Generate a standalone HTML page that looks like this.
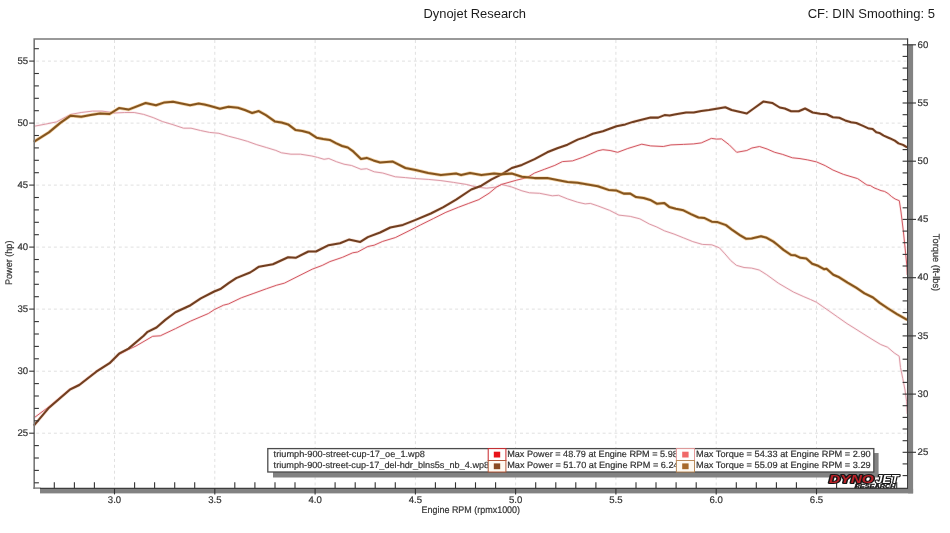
<!DOCTYPE html>
<html lang="en"><head><meta charset="utf-8"><title>Dynojet Research</title>
<style>html,body{margin:0;padding:0;background:#fff;overflow:hidden}body{width:950px;height:533px}</style>
</head><body>
<svg width="950" height="533" viewBox="0 0 950 533" style="display:block">
<rect width="950" height="533" fill="#fff"/>
<g stroke="#e0e0e0" stroke-width="1" stroke-dasharray="3 2.9" fill="none">
<line x1="36.2" x2="906.6" y1="433.2" y2="433.2"/>
<line x1="36.2" x2="906.6" y1="371.2" y2="371.2"/>
<line x1="36.2" x2="906.6" y1="309.1" y2="309.1"/>
<line x1="36.2" x2="906.6" y1="247.1" y2="247.1"/>
<line x1="36.2" x2="906.6" y1="185.1" y2="185.1"/>
<line x1="36.2" x2="906.6" y1="123.1" y2="123.1"/>
<line x1="36.2" x2="906.6" y1="61.1" y2="61.1"/>
<line y1="40.0" y2="487.3" x1="114.5" x2="114.5"/>
<line y1="40.0" y2="487.3" x1="214.8" x2="214.8"/>
<line y1="40.0" y2="487.3" x1="315.1" x2="315.1"/>
<line y1="40.0" y2="487.3" x1="415.4" x2="415.4"/>
<line y1="40.0" y2="487.3" x1="515.6" x2="515.6"/>
<line y1="40.0" y2="487.3" x1="615.9" x2="615.9"/>
<line y1="40.0" y2="487.3" x1="716.2" x2="716.2"/>
<line y1="40.0" y2="487.3" x1="816.5" x2="816.5"/>
</g>
<rect x="40" y="488.8" width="873.1" height="4.6" fill="#828282"/>
<rect x="908.1" y="44.6" width="5" height="448.8" fill="#828282"/>
<g fill="none" stroke-linejoin="round" stroke-linecap="butt">
<path d="M33.8 126.3 L45.2 124.2 L56.5 121.9 L70.7 114.4 L81.2 112.5 L92.5 111.1 L102.0 111.1 L109.6 112.1 L114.3 113.0 L124.7 112.5 L134.2 112.5 L143.7 114.4 L153.2 117.6 L162.6 121.6 L172.1 124.4 L183.5 128.2 L191.0 128.2 L200.5 130.5 L209.5 132.4 L218.9 133.3 L228.4 136.2 L237.9 138.6 L247.4 141.3 L256.8 144.7 L266.3 147.5 L275.8 150.4 L281.5 152.8 L290.9 154.2 L300.4 154.2 L311.8 156.0 L317.5 157.4 L324.1 159.3 L328.8 158.5 L336.4 161.7 L344.0 164.2 L351.6 165.5 L361.0 169.3 L366.7 168.7 L374.3 171.8 L382.7 173.0 L395.3 176.8 L405.4 177.6 L415.6 178.6 L428.2 179.4 L440.9 180.6 L453.5 182.4 L466.2 184.4 L476.3 187.0 L486.5 188.2 L496.6 187.0 L501.6 184.4 L511.8 187.0 L521.9 190.8 L529.5 192.8 L539.6 193.3 L552.3 195.8 L558.6 195.3 L567.5 198.9 L577.6 202.2 L585.2 203.9 L590.3 203.4 L597.8 205.9 L609.5 210.3 L618.9 215.1 L630.3 216.4 L639.8 218.8 L649.3 224.0 L656.8 227.0 L664.4 230.8 L673.9 234.0 L683.4 237.8 L692.8 241.6 L702.3 244.4 L711.8 244.8 L719.4 247.8 L725.0 253.9 L730.7 260.5 L736.4 265.3 L744.0 267.5 L751.6 268.1 L759.2 270.0 L766.7 274.7 L778.4 283.2 L786.9 288.2 L793.6 292.1 L803.8 296.7 L810.5 299.5 L816.4 302.2 L822.3 306.3 L829.1 311.0 L837.5 316.9 L847.0 323.6 L856.0 329.2 L865.0 334.9 L874.0 340.5 L880.7 344.5 L887.5 347.2 L894.2 352.9 L899.2 356.2 L900.5 367.5 L902.8 378.7 L905.0 390.0 L906.6 401.2 L907.3 414.0" stroke="#f6c8cc" stroke-opacity="0.3" stroke-width="2.4"/>
<path d="M33.8 126.3 L45.2 124.2 L56.5 121.9 L70.7 114.4 L81.2 112.5 L92.5 111.1 L102.0 111.1 L109.6 112.1 L114.3 113.0 L124.7 112.5 L134.2 112.5 L143.7 114.4 L153.2 117.6 L162.6 121.6 L172.1 124.4 L183.5 128.2 L191.0 128.2 L200.5 130.5 L209.5 132.4 L218.9 133.3 L228.4 136.2 L237.9 138.6 L247.4 141.3 L256.8 144.7 L266.3 147.5 L275.8 150.4 L281.5 152.8 L290.9 154.2 L300.4 154.2 L311.8 156.0 L317.5 157.4 L324.1 159.3 L328.8 158.5 L336.4 161.7 L344.0 164.2 L351.6 165.5 L361.0 169.3 L366.7 168.7 L374.3 171.8 L382.7 173.0 L395.3 176.8 L405.4 177.6 L415.6 178.6 L428.2 179.4 L440.9 180.6 L453.5 182.4 L466.2 184.4 L476.3 187.0 L486.5 188.2 L496.6 187.0 L501.6 184.4 L511.8 187.0 L521.9 190.8 L529.5 192.8 L539.6 193.3 L552.3 195.8 L558.6 195.3 L567.5 198.9 L577.6 202.2 L585.2 203.9 L590.3 203.4 L597.8 205.9 L609.5 210.3 L618.9 215.1 L630.3 216.4 L639.8 218.8 L649.3 224.0 L656.8 227.0 L664.4 230.8 L673.9 234.0 L683.4 237.8 L692.8 241.6 L702.3 244.4 L711.8 244.8 L719.4 247.8 L725.0 253.9 L730.7 260.5 L736.4 265.3 L744.0 267.5 L751.6 268.1 L759.2 270.0 L766.7 274.7 L778.4 283.2 L786.9 288.2 L793.6 292.1 L803.8 296.7 L810.5 299.5 L816.4 302.2 L822.3 306.3 L829.1 311.0 L837.5 316.9 L847.0 323.6 L856.0 329.2 L865.0 334.9 L874.0 340.5 L880.7 344.5 L887.5 347.2 L894.2 352.9 L899.2 356.2 L900.5 367.5 L902.8 378.7 L905.0 390.0 L906.6 401.2 L907.3 414.0" stroke="#dc9aa6" stroke-width="1"/>
<path d="M33.8 418.0 L49.0 406.7 L69.8 389.1 L79.3 384.5 L96.3 371.3 L109.6 363.0 L119.0 354.5 L128.5 349.5 L136.0 346.0 L152.7 336.3 L160.3 335.8 L175.4 328.7 L190.6 321.1 L208.4 313.5 L214.2 309.7 L223.5 305.2 L228.6 303.9 L241.3 297.8 L253.9 293.3 L266.6 288.7 L276.7 285.2 L284.3 283.2 L297.0 276.8 L312.2 269.2 L322.3 265.4 L329.9 261.6 L342.5 257.3 L352.7 252.8 L357.7 252.0 L367.8 246.5 L374.2 245.2 L382.7 241.4 L395.3 237.6 L408.0 231.3 L420.6 224.9 L433.3 218.6 L445.9 212.3 L458.6 207.2 L468.7 203.4 L478.9 199.6 L489.0 193.3 L496.6 187.0 L501.6 184.4 L516.8 180.1 L527.0 177.6 L534.6 173.0 L544.7 169.2 L554.8 165.4 L562.4 161.6 L572.5 160.9 L582.7 157.3 L590.3 154.1 L597.8 150.8 L602.9 149.7 L610.1 150.5 L617.7 152.3 L627.8 148.5 L641.8 144.2 L650.6 145.9 L663.3 146.5 L670.9 144.9 L683.5 144.4 L693.7 143.9 L701.3 142.9 L711.4 138.4 L716.5 139.1 L721.5 138.9 L729.1 144.7 L736.7 152.3 L746.8 150.5 L751.9 148.0 L759.5 146.5 L767.1 149.0 L774.7 152.3 L782.3 154.3 L792.4 157.8 L800.0 158.6 L807.6 159.9 L816.5 161.9 L825.3 165.7 L832.9 170.0 L843.5 174.4 L857.6 178.6 L866.9 185.0 L870.5 185.6 L874.0 187.8 L877.5 189.2 L881.0 190.6 L884.5 191.4 L888.1 193.5 L891.5 196.5 L895.1 199.0 L899.3 200.7 L901.0 212.0 L903.3 230.7 L905.0 247.2 L906.9 266.0 L907.3 275.0" stroke="#f4b4b4" stroke-opacity="0.3" stroke-width="2.4"/>
<path d="M33.8 418.0 L49.0 406.7 L69.8 389.1 L79.3 384.5 L96.3 371.3 L109.6 363.0 L119.0 354.5 L128.5 349.5 L136.0 346.0 L152.7 336.3 L160.3 335.8 L175.4 328.7 L190.6 321.1 L208.4 313.5 L214.2 309.7 L223.5 305.2 L228.6 303.9 L241.3 297.8 L253.9 293.3 L266.6 288.7 L276.7 285.2 L284.3 283.2 L297.0 276.8 L312.2 269.2 L322.3 265.4 L329.9 261.6 L342.5 257.3 L352.7 252.8 L357.7 252.0 L367.8 246.5 L374.2 245.2 L382.7 241.4 L395.3 237.6 L408.0 231.3 L420.6 224.9 L433.3 218.6 L445.9 212.3 L458.6 207.2 L468.7 203.4 L478.9 199.6 L489.0 193.3 L496.6 187.0 L501.6 184.4 L516.8 180.1 L527.0 177.6 L534.6 173.0 L544.7 169.2 L554.8 165.4 L562.4 161.6 L572.5 160.9 L582.7 157.3 L590.3 154.1 L597.8 150.8 L602.9 149.7 L610.1 150.5 L617.7 152.3 L627.8 148.5 L641.8 144.2 L650.6 145.9 L663.3 146.5 L670.9 144.9 L683.5 144.4 L693.7 143.9 L701.3 142.9 L711.4 138.4 L716.5 139.1 L721.5 138.9 L729.1 144.7 L736.7 152.3 L746.8 150.5 L751.9 148.0 L759.5 146.5 L767.1 149.0 L774.7 152.3 L782.3 154.3 L792.4 157.8 L800.0 158.6 L807.6 159.9 L816.5 161.9 L825.3 165.7 L832.9 170.0 L843.5 174.4 L857.6 178.6 L866.9 185.0 L870.5 185.6 L874.0 187.8 L877.5 189.2 L881.0 190.6 L884.5 191.4 L888.1 193.5 L891.5 196.5 L895.1 199.0 L899.3 200.7 L901.0 212.0 L903.3 230.7 L905.0 247.2 L906.9 266.0 L907.3 275.0" stroke="#d25a64" stroke-width="1"/>
<path d="M33.8 425.7 L49.0 407.7 L69.8 389.7 L79.3 385.0 L96.3 371.7 L109.6 363.2 L119.0 353.7 L128.5 348.6 L143.7 335.7 L147.6 331.8 L156.5 327.5 L165.3 319.9 L175.4 312.3 L190.6 305.2 L200.8 298.4 L214.2 291.5 L221.0 288.7 L228.6 283.2 L236.2 278.1 L250.1 272.5 L259.0 266.7 L272.9 264.2 L288.1 257.3 L295.7 257.8 L308.4 251.5 L316.0 251.5 L328.6 245.2 L340.0 243.2 L348.9 239.6 L360.3 241.9 L367.8 237.1 L380.1 232.5 L390.3 227.5 L402.9 224.9 L415.6 219.9 L430.8 213.5 L443.4 207.2 L456.1 199.6 L471.3 189.5 L481.4 185.7 L491.5 179.4 L501.6 174.3 L511.8 168.0 L521.9 164.9 L534.6 159.1 L547.2 152.3 L557.3 148.2 L567.5 144.7 L577.6 139.6 L585.2 137.1 L592.8 133.8 L602.9 131.3 L607.6 129.5 L616.5 126.2 L625.3 124.4 L632.9 121.9 L640.5 120.1 L650.6 117.6 L658.2 117.6 L664.6 115.1 L669.6 115.6 L675.9 114.3 L686.1 112.5 L693.7 112.5 L701.3 111.0 L708.9 110.0 L716.5 108.7 L725.3 107.2 L731.6 110.0 L739.2 111.8 L746.8 113.5 L754.4 108.0 L763.3 101.6 L772.2 102.9 L779.7 107.5 L784.8 108.5 L791.1 111.3 L798.7 111.3 L805.1 108.5 L812.7 112.5 L820.3 113.8 L826.6 114.3 L832.9 117.3 L839.3 117.8 L845.2 120.4 L851.1 122.2 L856.3 123.0 L863.0 125.9 L868.9 128.6 L872.6 128.9 L876.3 132.3 L879.3 132.9 L883.7 135.6 L889.6 138.2 L894.8 140.7 L898.5 143.4 L903.0 144.9 L907.1 147.4" stroke="#e8b090" stroke-opacity="0.4" stroke-width="3.2"/>
<path d="M33.8 425.7 L49.0 407.7 L69.8 389.7 L79.3 385.0 L96.3 371.7 L109.6 363.2 L119.0 353.7 L128.5 348.6 L143.7 335.7 L147.6 331.8 L156.5 327.5 L165.3 319.9 L175.4 312.3 L190.6 305.2 L200.8 298.4 L214.2 291.5 L221.0 288.7 L228.6 283.2 L236.2 278.1 L250.1 272.5 L259.0 266.7 L272.9 264.2 L288.1 257.3 L295.7 257.8 L308.4 251.5 L316.0 251.5 L328.6 245.2 L340.0 243.2 L348.9 239.6 L360.3 241.9 L367.8 237.1 L380.1 232.5 L390.3 227.5 L402.9 224.9 L415.6 219.9 L430.8 213.5 L443.4 207.2 L456.1 199.6 L471.3 189.5 L481.4 185.7 L491.5 179.4 L501.6 174.3 L511.8 168.0 L521.9 164.9 L534.6 159.1 L547.2 152.3 L557.3 148.2 L567.5 144.7 L577.6 139.6 L585.2 137.1 L592.8 133.8 L602.9 131.3 L607.6 129.5 L616.5 126.2 L625.3 124.4 L632.9 121.9 L640.5 120.1 L650.6 117.6 L658.2 117.6 L664.6 115.1 L669.6 115.6 L675.9 114.3 L686.1 112.5 L693.7 112.5 L701.3 111.0 L708.9 110.0 L716.5 108.7 L725.3 107.2 L731.6 110.0 L739.2 111.8 L746.8 113.5 L754.4 108.0 L763.3 101.6 L772.2 102.9 L779.7 107.5 L784.8 108.5 L791.1 111.3 L798.7 111.3 L805.1 108.5 L812.7 112.5 L820.3 113.8 L826.6 114.3 L832.9 117.3 L839.3 117.8 L845.2 120.4 L851.1 122.2 L856.3 123.0 L863.0 125.9 L868.9 128.6 L872.6 128.9 L876.3 132.3 L879.3 132.9 L883.7 135.6 L889.6 138.2 L894.8 140.7 L898.5 143.4 L903.0 144.9 L907.1 147.4" stroke="#703e20" stroke-width="2.05"/>
<path d="M33.8 141.8 L48.9 132.4 L60.3 122.9 L70.7 115.7 L81.2 116.8 L90.6 114.9 L100.1 113.4 L109.6 114.0 L119.0 108.1 L128.5 109.6 L145.6 103.0 L156.0 105.3 L164.5 102.4 L173.0 101.7 L181.6 103.6 L190.1 105.3 L198.6 103.6 L204.3 104.5 L209.5 105.8 L219.9 108.7 L228.4 106.8 L237.9 107.7 L245.5 110.2 L252.1 113.0 L258.7 111.1 L266.3 115.3 L274.8 121.4 L281.5 122.5 L288.1 124.4 L295.7 130.1 L302.3 130.9 L308.9 132.7 L316.5 137.7 L323.2 139.0 L329.8 139.9 L336.4 143.4 L342.1 146.0 L347.8 147.5 L353.5 151.7 L361.0 158.9 L366.7 157.9 L373.4 160.4 L380.1 162.4 L392.8 161.6 L405.4 168.0 L415.6 170.0 L428.2 173.0 L440.9 175.1 L456.1 173.5 L461.1 175.1 L470.0 173.0 L481.4 175.1 L494.1 173.5 L501.6 174.3 L511.8 173.5 L521.9 176.8 L534.6 178.1 L547.2 178.1 L557.3 180.1 L567.5 181.9 L577.6 182.7 L587.7 184.4 L597.8 186.2 L608.5 189.9 L616.1 190.4 L623.7 193.6 L630.3 193.6 L636.0 197.1 L643.6 198.0 L650.2 199.9 L656.8 203.7 L664.4 203.1 L669.2 206.9 L675.8 208.8 L683.4 210.3 L690.9 214.1 L698.5 217.5 L704.2 217.9 L711.8 221.7 L717.5 222.1 L726.0 225.1 L732.6 230.2 L740.2 235.3 L745.9 238.7 L751.6 238.4 L761.0 236.3 L766.7 237.8 L773.4 241.6 L776.8 244.3 L783.5 249.9 L791.1 255.0 L795.3 255.3 L800.4 257.8 L806.3 258.4 L812.2 263.8 L818.1 265.8 L824.0 269.2 L826.5 268.8 L833.3 274.7 L839.2 277.3 L847.6 282.7 L856.1 287.7 L864.5 293.3 L873.0 297.5 L879.7 302.9 L888.1 308.5 L896.6 313.9 L905.0 318.6 L907.2 319.8" stroke="#e8a850" stroke-opacity="0.5" stroke-width="3.4"/>
<path d="M33.8 141.8 L48.9 132.4 L60.3 122.9 L70.7 115.7 L81.2 116.8 L90.6 114.9 L100.1 113.4 L109.6 114.0 L119.0 108.1 L128.5 109.6 L145.6 103.0 L156.0 105.3 L164.5 102.4 L173.0 101.7 L181.6 103.6 L190.1 105.3 L198.6 103.6 L204.3 104.5 L209.5 105.8 L219.9 108.7 L228.4 106.8 L237.9 107.7 L245.5 110.2 L252.1 113.0 L258.7 111.1 L266.3 115.3 L274.8 121.4 L281.5 122.5 L288.1 124.4 L295.7 130.1 L302.3 130.9 L308.9 132.7 L316.5 137.7 L323.2 139.0 L329.8 139.9 L336.4 143.4 L342.1 146.0 L347.8 147.5 L353.5 151.7 L361.0 158.9 L366.7 157.9 L373.4 160.4 L380.1 162.4 L392.8 161.6 L405.4 168.0 L415.6 170.0 L428.2 173.0 L440.9 175.1 L456.1 173.5 L461.1 175.1 L470.0 173.0 L481.4 175.1 L494.1 173.5 L501.6 174.3 L511.8 173.5 L521.9 176.8 L534.6 178.1 L547.2 178.1 L557.3 180.1 L567.5 181.9 L577.6 182.7 L587.7 184.4 L597.8 186.2 L608.5 189.9 L616.1 190.4 L623.7 193.6 L630.3 193.6 L636.0 197.1 L643.6 198.0 L650.2 199.9 L656.8 203.7 L664.4 203.1 L669.2 206.9 L675.8 208.8 L683.4 210.3 L690.9 214.1 L698.5 217.5 L704.2 217.9 L711.8 221.7 L717.5 222.1 L726.0 225.1 L732.6 230.2 L740.2 235.3 L745.9 238.7 L751.6 238.4 L761.0 236.3 L766.7 237.8 L773.4 241.6 L776.8 244.3 L783.5 249.9 L791.1 255.0 L795.3 255.3 L800.4 257.8 L806.3 258.4 L812.2 263.8 L818.1 265.8 L824.0 269.2 L826.5 268.8 L833.3 274.7 L839.2 277.3 L847.6 282.7 L856.1 287.7 L864.5 293.3 L873.0 297.5 L879.7 302.9 L888.1 308.5 L896.6 313.9 L905.0 318.6 L907.2 319.8" stroke="#84541e" stroke-width="2.05"/>
</g>
<path d="M34.2 488.90000000000003 V39.0 H908.1" fill="none" stroke="#787878" stroke-width="1.6"/>
<path d="M33.400000000000006 488.1 H40.5" fill="none" stroke="#7c7c7c" stroke-width="1.4"/>
<path d="M40 488.3 H907.6 V38.4" fill="none" stroke="#3e3e3e" stroke-width="1.15"/>
<g stroke="#333" stroke-width="1.1" fill="none">
<line x1="34.2" x2="38.9" y1="482.8" y2="482.8"/>
<line x1="34.2" x2="38.9" y1="470.4" y2="470.4"/>
<line x1="34.2" x2="38.9" y1="458.0" y2="458.0"/>
<line x1="34.2" x2="38.9" y1="445.6" y2="445.6"/>
<line x1="29.2" x2="34.2" y1="433.2" y2="433.2"/>
<line x1="34.2" x2="38.9" y1="420.8" y2="420.8"/>
<line x1="34.2" x2="38.9" y1="408.4" y2="408.4"/>
<line x1="34.2" x2="38.9" y1="396.0" y2="396.0"/>
<line x1="34.2" x2="38.9" y1="383.6" y2="383.6"/>
<line x1="29.2" x2="34.2" y1="371.2" y2="371.2"/>
<line x1="34.2" x2="38.9" y1="358.8" y2="358.8"/>
<line x1="34.2" x2="38.9" y1="346.4" y2="346.4"/>
<line x1="34.2" x2="38.9" y1="334.0" y2="334.0"/>
<line x1="34.2" x2="38.9" y1="321.6" y2="321.6"/>
<line x1="29.2" x2="34.2" y1="309.1" y2="309.1"/>
<line x1="34.2" x2="38.9" y1="296.7" y2="296.7"/>
<line x1="34.2" x2="38.9" y1="284.3" y2="284.3"/>
<line x1="34.2" x2="38.9" y1="271.9" y2="271.9"/>
<line x1="34.2" x2="38.9" y1="259.5" y2="259.5"/>
<line x1="29.2" x2="34.2" y1="247.1" y2="247.1"/>
<line x1="34.2" x2="38.9" y1="234.7" y2="234.7"/>
<line x1="34.2" x2="38.9" y1="222.3" y2="222.3"/>
<line x1="34.2" x2="38.9" y1="209.9" y2="209.9"/>
<line x1="34.2" x2="38.9" y1="197.5" y2="197.5"/>
<line x1="29.2" x2="34.2" y1="185.1" y2="185.1"/>
<line x1="34.2" x2="38.9" y1="172.7" y2="172.7"/>
<line x1="34.2" x2="38.9" y1="160.3" y2="160.3"/>
<line x1="34.2" x2="38.9" y1="147.9" y2="147.9"/>
<line x1="34.2" x2="38.9" y1="135.5" y2="135.5"/>
<line x1="29.2" x2="34.2" y1="123.1" y2="123.1"/>
<line x1="34.2" x2="38.9" y1="110.7" y2="110.7"/>
<line x1="34.2" x2="38.9" y1="98.3" y2="98.3"/>
<line x1="34.2" x2="38.9" y1="85.9" y2="85.9"/>
<line x1="34.2" x2="38.9" y1="73.5" y2="73.5"/>
<line x1="29.2" x2="34.2" y1="61.1" y2="61.1"/>
<line x1="34.2" x2="38.9" y1="48.7" y2="48.7"/>
<line x1="902.6" x2="907.6" y1="475.6" y2="475.6"/>
<line x1="902.6" x2="907.6" y1="463.9" y2="463.9"/>
<line x1="902.6" x2="916" y1="452.3" y2="452.3"/>
<line x1="902.6" x2="907.6" y1="440.7" y2="440.7"/>
<line x1="902.6" x2="907.6" y1="429.0" y2="429.0"/>
<line x1="902.6" x2="907.6" y1="417.4" y2="417.4"/>
<line x1="902.6" x2="907.6" y1="405.7" y2="405.7"/>
<line x1="902.6" x2="916" y1="394.1" y2="394.1"/>
<line x1="902.6" x2="907.6" y1="382.4" y2="382.4"/>
<line x1="902.6" x2="907.6" y1="370.8" y2="370.8"/>
<line x1="902.6" x2="907.6" y1="359.2" y2="359.2"/>
<line x1="902.6" x2="907.6" y1="347.5" y2="347.5"/>
<line x1="902.6" x2="916" y1="335.9" y2="335.9"/>
<line x1="902.6" x2="907.6" y1="324.2" y2="324.2"/>
<line x1="902.6" x2="907.6" y1="312.6" y2="312.6"/>
<line x1="902.6" x2="907.6" y1="300.9" y2="300.9"/>
<line x1="902.6" x2="907.6" y1="289.3" y2="289.3"/>
<line x1="902.6" x2="916" y1="277.7" y2="277.7"/>
<line x1="902.6" x2="907.6" y1="266.0" y2="266.0"/>
<line x1="902.6" x2="907.6" y1="254.4" y2="254.4"/>
<line x1="902.6" x2="907.6" y1="242.7" y2="242.7"/>
<line x1="902.6" x2="907.6" y1="231.1" y2="231.1"/>
<line x1="902.6" x2="916" y1="219.4" y2="219.4"/>
<line x1="902.6" x2="907.6" y1="207.8" y2="207.8"/>
<line x1="902.6" x2="907.6" y1="196.2" y2="196.2"/>
<line x1="902.6" x2="907.6" y1="184.5" y2="184.5"/>
<line x1="902.6" x2="907.6" y1="172.9" y2="172.9"/>
<line x1="902.6" x2="916" y1="161.2" y2="161.2"/>
<line x1="902.6" x2="907.6" y1="149.6" y2="149.6"/>
<line x1="902.6" x2="907.6" y1="137.9" y2="137.9"/>
<line x1="902.6" x2="907.6" y1="126.3" y2="126.3"/>
<line x1="902.6" x2="907.6" y1="114.7" y2="114.7"/>
<line x1="902.6" x2="916" y1="103.0" y2="103.0"/>
<line x1="902.6" x2="907.6" y1="91.4" y2="91.4"/>
<line x1="902.6" x2="907.6" y1="79.7" y2="79.7"/>
<line x1="902.6" x2="907.6" y1="68.1" y2="68.1"/>
<line x1="902.6" x2="907.6" y1="56.4" y2="56.4"/>
<line x1="902.6" x2="916" y1="44.8" y2="44.8"/>
<line x1="54.3" x2="54.3" y1="482.3" y2="488.3"/>
<line x1="74.4" x2="74.4" y1="482.3" y2="488.3"/>
<line x1="94.4" x2="94.4" y1="482.3" y2="488.3"/>
<line x1="114.5" x2="114.5" y1="488.3" y2="494.4"/>
<line x1="134.6" x2="134.6" y1="482.3" y2="488.3"/>
<line x1="154.6" x2="154.6" y1="482.3" y2="488.3"/>
<line x1="174.7" x2="174.7" y1="482.3" y2="488.3"/>
<line x1="194.7" x2="194.7" y1="482.3" y2="488.3"/>
<line x1="214.8" x2="214.8" y1="488.3" y2="494.4"/>
<line x1="234.8" x2="234.8" y1="482.3" y2="488.3"/>
<line x1="254.9" x2="254.9" y1="482.3" y2="488.3"/>
<line x1="275.0" x2="275.0" y1="482.3" y2="488.3"/>
<line x1="295.0" x2="295.0" y1="482.3" y2="488.3"/>
<line x1="315.1" x2="315.1" y1="488.3" y2="494.4"/>
<line x1="335.1" x2="335.1" y1="482.3" y2="488.3"/>
<line x1="355.2" x2="355.2" y1="482.3" y2="488.3"/>
<line x1="375.2" x2="375.2" y1="482.3" y2="488.3"/>
<line x1="395.3" x2="395.3" y1="482.3" y2="488.3"/>
<line x1="415.4" x2="415.4" y1="488.3" y2="494.4"/>
<line x1="435.4" x2="435.4" y1="482.3" y2="488.3"/>
<line x1="455.5" x2="455.5" y1="482.3" y2="488.3"/>
<line x1="475.5" x2="475.5" y1="482.3" y2="488.3"/>
<line x1="495.6" x2="495.6" y1="482.3" y2="488.3"/>
<line x1="515.6" x2="515.6" y1="488.3" y2="494.4"/>
<line x1="535.7" x2="535.7" y1="482.3" y2="488.3"/>
<line x1="555.8" x2="555.8" y1="482.3" y2="488.3"/>
<line x1="575.8" x2="575.8" y1="482.3" y2="488.3"/>
<line x1="595.9" x2="595.9" y1="482.3" y2="488.3"/>
<line x1="615.9" x2="615.9" y1="488.3" y2="494.4"/>
<line x1="636.0" x2="636.0" y1="482.3" y2="488.3"/>
<line x1="656.0" x2="656.0" y1="482.3" y2="488.3"/>
<line x1="676.1" x2="676.1" y1="482.3" y2="488.3"/>
<line x1="696.2" x2="696.2" y1="482.3" y2="488.3"/>
<line x1="716.2" x2="716.2" y1="488.3" y2="494.4"/>
<line x1="736.3" x2="736.3" y1="482.3" y2="488.3"/>
<line x1="756.3" x2="756.3" y1="482.3" y2="488.3"/>
<line x1="776.4" x2="776.4" y1="482.3" y2="488.3"/>
<line x1="796.4" x2="796.4" y1="482.3" y2="488.3"/>
<line x1="816.5" x2="816.5" y1="488.3" y2="494.4"/>
<line x1="836.6" x2="836.6" y1="482.3" y2="488.3"/>
<line x1="856.6" x2="856.6" y1="482.3" y2="488.3"/>
<line x1="876.7" x2="876.7" y1="482.3" y2="488.3"/>
<line x1="896.7" x2="896.7" y1="482.3" y2="488.3"/>
</g>
<g font-family="'Liberation Sans', sans-serif" font-size="9.6" fill="#333" stroke="#333" stroke-width="0.2" text-rendering="geometricPrecision">
<text x="28.1" y="435.9" text-anchor="end">25</text>
<text x="28.1" y="373.9" text-anchor="end">30</text>
<text x="28.1" y="311.8" text-anchor="end">35</text>
<text x="28.1" y="249.8" text-anchor="end">40</text>
<text x="28.1" y="187.8" text-anchor="end">45</text>
<text x="28.1" y="125.8" text-anchor="end">50</text>
<text x="28.1" y="63.8" text-anchor="end">55</text>
<text x="917.6" y="455.0">25</text>
<text x="917.6" y="396.8">30</text>
<text x="917.6" y="338.6">35</text>
<text x="917.6" y="280.4">40</text>
<text x="917.6" y="222.1">45</text>
<text x="917.6" y="163.9">50</text>
<text x="917.6" y="105.7">55</text>
<text x="917.6" y="47.5">60</text>
<text x="114.5" y="503.2" text-anchor="middle">3.0</text>
<text x="214.8" y="503.2" text-anchor="middle">3.5</text>
<text x="315.1" y="503.2" text-anchor="middle">4.0</text>
<text x="415.4" y="503.2" text-anchor="middle">4.5</text>
<text x="515.6" y="503.2" text-anchor="middle">5.0</text>
<text x="615.9" y="503.2" text-anchor="middle">5.5</text>
<text x="716.2" y="503.2" text-anchor="middle">6.0</text>
<text x="816.5" y="503.2" text-anchor="middle">6.5</text>
<text x="470.8" y="513.4" text-anchor="middle" textLength="98.5" lengthAdjust="spacingAndGlyphs">Engine RPM (rpmx1000)</text>
<text transform="translate(11.6 262.8) rotate(-90)" text-anchor="middle" textLength="44.5" lengthAdjust="spacingAndGlyphs">Power (hp)</text>
<text transform="translate(932.6 262.5) rotate(90)" text-anchor="middle" textLength="57.4" lengthAdjust="spacingAndGlyphs">Torque (ft-lbs)</text>
</g>
<g font-family="'Liberation Sans', sans-serif" font-size="13" fill="#1c1c1c">
<text x="423.5" y="18.2" textLength="102.5" lengthAdjust="spacingAndGlyphs">Dynojet Research</text>
<text x="807.7" y="18.1" textLength="127.4" lengthAdjust="spacingAndGlyphs">CF: DIN Smoothing: 5</text>
</g>
<path d="M273 472.0 H873.8 V453 H878.6 V477.5 H273 Z" fill="#828282"/>
<rect x="267.8" y="448.6" width="606.0" height="23.399999999999977" fill="#fff" stroke="#4c4c4c" stroke-width="1.3"/>
<rect x="488.2" y="448.6" width="17.7" height="11.9" fill="#fff" stroke="#c8262a" stroke-width="1"/>
<rect x="493.8" y="451.7" width="6.4" height="5.8" fill="#e8141a"/>
<rect x="488.2" y="460.5" width="17.7" height="11.5" fill="#fffaf2" stroke="#b4583a" stroke-width="1"/>
<rect x="493.8" y="463.4" width="6.4" height="5.8" fill="#8b4a22"/>
<rect x="676.4" y="448.6" width="18.1" height="11.9" fill="#fff" stroke="#e59a9a" stroke-width="1"/>
<rect x="682.2" y="451.7" width="6.4" height="5.8" fill="#f06a6a"/>
<rect x="676.4" y="460.5" width="18.1" height="11.5" fill="#fffaf2" stroke="#b98a5a" stroke-width="1"/>
<rect x="682.2" y="463.4" width="6.4" height="5.8" fill="#a8692a"/>
<defs>
<clipPath id="c1"><rect x="267.8" y="448.6" width="219.9" height="23.399999999999977"/></clipPath>
<clipPath id="c2"><rect x="505.9" y="448.6" width="170.0" height="23.399999999999977"/></clipPath>
</defs>
<g font-family="'Liberation Sans', sans-serif" font-size="9" fill="#2e2e2e" stroke="#2e2e2e" stroke-width="0.18" text-rendering="geometricPrecision">
<g clip-path="url(#c1)"><text x="273.6" y="456.8" textLength="151.4" lengthAdjust="spacingAndGlyphs">triumph-900-street-cup-17_oe_1.wp8</text>
<text x="273.6" y="468.4" textLength="215.6" lengthAdjust="spacingAndGlyphs">triumph-900-street-cup-17_del-hdr_blns5s_nb_4.wp8</text></g>
<g clip-path="url(#c2)"><text x="507.2" y="456.8" textLength="170.6" lengthAdjust="spacingAndGlyphs">Max Power = 48.79 at Engine RPM = 5.98</text>
<text x="507.2" y="468.4" textLength="171.4" lengthAdjust="spacingAndGlyphs">Max Power = 51.70 at Engine RPM = 6.24</text></g>
<text x="696" y="456.8" textLength="174.7" lengthAdjust="spacingAndGlyphs">Max Torque = 54.33 at Engine RPM = 2.90</text>
<text x="696" y="468.4" textLength="174.7" lengthAdjust="spacingAndGlyphs">Max Torque = 55.09 at Engine RPM = 3.29</text>
</g>
<g font-family="'Liberation Sans', sans-serif" font-weight="bold" font-style="italic" font-size="10" stroke="#161616" stroke-width="2" paint-order="stroke" stroke-linejoin="round">
<text x="829" y="482.6" textLength="45" lengthAdjust="spacingAndGlyphs" fill="#b81f26">DYNO</text>
<text x="875.6" y="482.6" textLength="23" lengthAdjust="spacingAndGlyphs" fill="#fff">JET</text>
</g>
<text x="854.5" y="487.6" font-family="'Liberation Sans', sans-serif" font-weight="bold" font-style="italic" font-size="4.6" textLength="41" lengthAdjust="spacingAndGlyphs" fill="#1a1a1a" stroke="#1a1a1a" stroke-width="0.3">RESEARCH</text>
</svg>
</body></html>
